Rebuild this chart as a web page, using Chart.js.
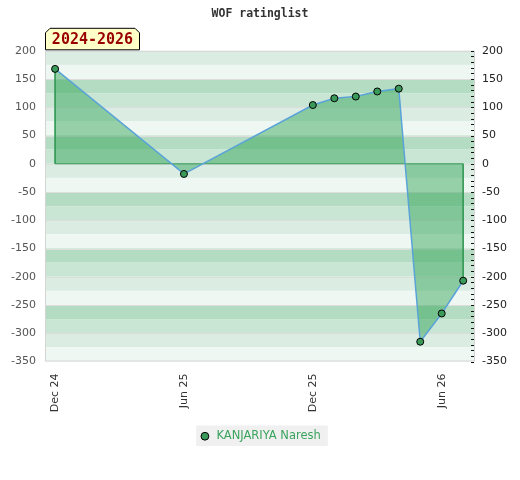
<!DOCTYPE html>
<html>
<head>
<meta charset="utf-8">
<script src="https://cdn.jsdelivr.net/npm/chart.js@4.4.0/dist/chart.umd.min.js"></script>
<style>
  html, body { margin: 0; padding: 0; background: #fff; }
  #wrap { width: 520px; height: 480px; }
</style>
</head>
<body>
<div id="wrap"><canvas id="myChart" width="520" height="480"></canvas></div>
<script>
// datos
const months = ['2024-12', '2025-06', '2025-12', '2026-01', '2026-02', '2026-03', '2026-04', '2026-05', '2026-06', '2026-07'];
const ratings = [168, -18, 104, 116, 119, 128, 133, -315, -265, -207];
const tickMonths = ['2024-12', '2025-06', '2025-12', '2026-06'];
const tickLabels = ['Dec 24', 'Jun 25', 'Dec 25', 'Jun 26'];
const playerName = 'KANJARIYA Naresh';
const periodLabel = '2024-2026';

// mes -> indice contando desde Dec 2024
const monthIndex = (m) => {
    const [y, mo] = m.split('-').map(Number);
    return (y - 2024) * 12 + (mo - 12);
};

const points = months.map((m, i) => ({ x: monthIndex(m), y: ratings[i] }));
const first = points[0];
const last = points[points.length - 1];
const baseOutline = [first, { x: first.x, y: 0 }, { x: last.x, y: 0 }, last];
const tickPositions = tickMonths.map(monthIndex);

const bandColors = ['#dbede3', '#eff7f2', '#b3dcc2', '#c8e6d3'];

const bandsPlugin = {
    id: 'bands',
    beforeDraw(chart) {
        const { ctx, chartArea: a } = chart;
        const y = chart.scales.y;
        ctx.save();
        let k = 0;
        for (let v = y.max; v > y.min; v -= 25, k++) {
            const top = y.getPixelForValue(v);
            const bot = y.getPixelForValue(v - 25);
            ctx.fillStyle = bandColors[k % 4];
            ctx.fillRect(a.left, top, a.right - a.left, bot - top);
        }
        ctx.strokeStyle = '#dddddd';
        ctx.lineWidth = 1;
        for (let v = y.max - 50; v > y.min; v -= 50) {
            const py = Math.round(y.getPixelForValue(v)) + 0.5;
            ctx.beginPath();
            ctx.moveTo(a.left, py);
            ctx.lineTo(a.right, py);
            ctx.stroke();
        }
        ctx.strokeStyle = '#d4d4d4';
        ctx.strokeRect(a.left + 0.5, a.top + 0.5, a.right - a.left - 1, a.bottom - a.top - 1);

        // ticks menores del eje derecho
        ctx.strokeStyle = '#111';
        for (let v = y.max; v >= y.min; v -= 10) {
            const py = Math.round(y.getPixelForValue(v)) + 0.5;
            ctx.beginPath();
            ctx.moveTo(a.right - 4, py);
            ctx.lineTo(a.right - 1, py);
            ctx.stroke();
        }

        // fondo de la leyenda
        const boxes = chart.legend && chart.legend.legendHitBoxes;
        if (boxes && boxes.length) {
            const b = boxes[0];
            ctx.fillStyle = '#f0f0f0';
            ctx.fillRect(b.left - 3, b.top - 5, b.width + 10, b.height + 9);
        }
        ctx.restore();
    },
    afterDraw(chart) {
        const { ctx, chartArea: a } = chart;
        const x0 = a.left, x1 = a.left + 95, yb = a.top - 1, yt = a.top - 23;
        ctx.save();
        ctx.beginPath();
        ctx.moveTo(x0 + 0.5, yb);
        ctx.lineTo(x0 + 0.5, yt + 5);
        ctx.lineTo(x0 + 5, yt + 0.5);
        ctx.lineTo(x1 - 5, yt + 0.5);
        ctx.lineTo(x1 - 0.5, yt + 5);
        ctx.lineTo(x1 - 0.5, yb);
        ctx.closePath();
        ctx.fillStyle = '#ffffc8';
        ctx.fill();
        ctx.strokeStyle = '#000';
        ctx.lineWidth = 1;
        ctx.stroke();
        ctx.fillStyle = '#990000';
        ctx.font = 'bold 15px "DejaVu Sans Mono"';
        ctx.textAlign = 'center';
        ctx.textBaseline = 'middle';
        ctx.fillText(periodLabel, (x0 + x1) / 2, (yt + yb) / 2 + 1);
        ctx.restore();
    }
};

const ctx = document.getElementById('myChart');

new Chart(ctx, {
    type: 'line',
    data: {
        datasets: [{
            label: playerName,
            data: points,
            borderColor: '#5aa3d8',
            borderWidth: 1.5,
            backgroundColor: 'rgba(40, 160, 80, 0.45)',
            fill: 'origin',
            tension: 0,
            pointRadius: 3.5,
            pointBackgroundColor: '#3a9a5a',
            pointBorderColor: '#000',
            pointBorderWidth: 1,
            order: 0
        }, {
            label: 'base',
            data: baseOutline,
            borderColor: '#3a9a5a',
            borderWidth: 1,
            pointRadius: 0,
            fill: false,
            tension: 0,
            order: 1
        }]
    },
    options: {
        responsive: false,
        animation: false,
        devicePixelRatio: 1,
        layout: { padding: { top: 0, bottom: 28, left: 0, right: 0 } },
        plugins: {
            title: {
                display: true,
                text: 'WOF ratinglist',
                color: '#333',
                font: { family: '"DejaVu Sans Mono"', size: 11.5, weight: 'bold' },
                padding: { top: 7, bottom: 30 }
            },
            legend: {
                position: 'bottom',
                labels: {
                    filter: (item) => item.datasetIndex === 0,
                    usePointStyle: true,
                    pointStyle: 'circle',
                    boxWidth: 16,
                    boxHeight: 5.5,
                    color: '#3aa35e',
                    font: { family: '"DejaVu Sans"', size: 11.5 },
                    padding: 10
                }
            },
            tooltip: { enabled: false }
        },
        scales: {
            x: {
                type: 'linear',
                min: -0.47,
                max: 19.55,
                afterBuildTicks: (scale) => {
                    scale.ticks = tickPositions.map(v => ({ value: v }));
                },
                afterFit: (scale) => { scale.height = 59; },
                ticks: {
                    autoSkip: false,
                    minRotation: 90,
                    maxRotation: 90,
                    padding: 4,
                    color: '#333',
                    font: { family: '"DejaVu Sans"', size: 11 },
                    callback: (v) => {
                        const i = tickPositions.indexOf(v);
                        return i >= 0 ? tickLabels[i] : '';
                    }
                },
                grid: { display: false },
                border: { display: false }
            },
            y: {
                position: 'left',
                min: -350,
                max: 200,
                afterFit: (scale) => { scale.width = 45; },
                ticks: {
                    stepSize: 50,
                    color: '#555',
                    padding: 9,
                    font: { family: '"DejaVu Sans"', size: 11 }
                },
                grid: { display: false, drawTicks: false },
                border: { display: false }
            },
            y2: {
                position: 'right',
                min: -350,
                max: 200,
                afterFit: (scale) => { scale.width = 45; },
                ticks: {
                    stepSize: 50,
                    color: '#222',
                    padding: 7,
                    font: { family: '"DejaVu Sans"', size: 11 }
                },
                grid: { display: false, drawTicks: false },
                border: { display: false }
            }
        }
    },
    plugins: [bandsPlugin]
});
</script>
</body>
</html>
